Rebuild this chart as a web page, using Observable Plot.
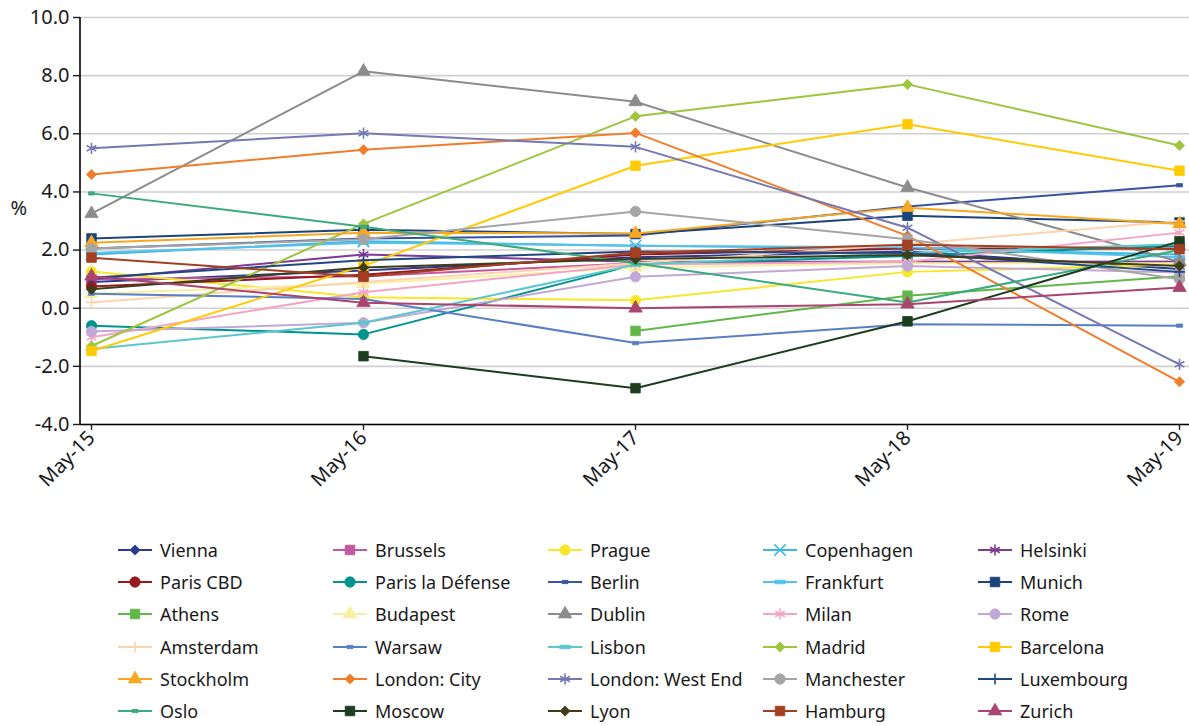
<!DOCTYPE html>
<html><head><meta charset="utf-8">
<script src="https://cdn.jsdelivr.net/npm/d3@7"></script>
<script src="https://cdn.jsdelivr.net/npm/@observablehq/plot@0.6"></script>
<style>
body{margin:0;background:#fff;font-family:"Noto Sans",sans-serif;position:relative;width:1189px;height:726px;overflow:hidden;}
.item{position:absolute;display:flex;align-items:center;font-size:18px;color:#1a1a1a;height:32px;white-space:nowrap;}
.item svg{margin-right:6px;}
</style></head><body>
<div id="chart"></div>
<div id="legend"></div>
<script>
// ---- data ----
const months = ["May-15","May-16","May-17","May-18","May-19"];
const yTicks = [-4, -2, 0, 2, 4, 6, 8, 10];

const vienna      = [0.9, 1.3, 1.75, 1.95, 1.35];
const brussels    = [1.0, 1.1, 1.55, 1.6, 1.6];
const prague      = [1.26, 0.38, 0.27, 1.25, 1.5];
const copenhagen  = [1.85, 2.3, 2.15, 2.05, 1.85];
const helsinki    = [1.0, 1.85, 1.6, 1.6, 1.6];
const parisCBD    = [0.75, 1.15, 1.85, 2.05, 2.05];
const parisDefense= [-0.6, -0.9, 1.5, 1.8, 2.15];
const berlin      = [2.05, 2.4, 2.5, 3.5, 4.23];
const frankfurt   = [1.9, 2.25, 2.15, 2.1, 1.75];
const munich      = [2.4, 2.7, 2.55, 3.18, 2.95];
const athens      = [null, null, -0.78, 0.43, 1.1];
const budapest    = [0.5, 0.85, 1.4, 1.55, 1.55];
const dublin      = [3.25, 8.15, 7.1, 4.15, 1.6];
const milan       = [-1.0, 0.55, 1.5, 1.6, 2.6];
const rome        = [-0.8, -0.5, 1.08, 1.45, 1.23];
const amsterdam   = [0.2, 0.9, 1.55, 2.2, 3.0];
const warsaw      = [0.5, 0.32, -1.2, -0.55, -0.6];
const lisbon      = [-1.4, -0.5, 1.5, 1.9, 2.2];
const madrid      = [-1.3, 2.9, 6.6, 7.7, 5.6];
const barcelona   = [-1.47, 1.46, 4.9, 6.33, 4.73];
const stockholm   = [2.25, 2.6, 2.57, 3.46, 2.9];
const londonCity  = [4.6, 5.45, 6.03, 2.49, -2.53];
const londonWE    = [5.5, 6.02, 5.55, 2.77, -1.93];
const manchester  = [2.05, 2.37, 3.33, 2.37, 1.0];
const luxembourg  = [1.05, 1.65, 1.95, 1.9, 1.25];
const oslo        = [3.95, 2.8, 1.55, 0.2, 2.0];
const moscow      = [null, -1.65, -2.75, -0.45, 2.3];
const lyon        = [0.65, 1.4, 1.69, 1.83, 1.45];
const hamburg     = [1.74, 1.08, 1.91, 2.18, 2.03];
const zurich      = [1.1, 0.19, 0.0, 0.14, 0.71];

const names = ["Vienna","Brussels","Prague","Copenhagen","Helsinki",
  "Paris CBD","Paris la Défense","Berlin","Frankfurt","Munich",
  "Athens","Budapest","Dublin","Milan","Rome",
  "Amsterdam","Warsaw","Lisbon","Madrid","Barcelona",
  "Stockholm","London: City","London: West End","Manchester","Luxembourg",
  "Oslo","Moscow","Lyon","Hamburg","Zurich"];
const values = [vienna,brussels,prague,copenhagen,helsinki,
  parisCBD,parisDefense,berlin,frankfurt,munich,
  athens,budapest,dublin,milan,rome,
  amsterdam,warsaw,lisbon,madrid,barcelona,
  stockholm,londonCity,londonWE,manchester,luxembourg,
  oslo,moscow,lyon,hamburg,zurich];

// ---- styles ----
const colors = ["#2B3990","#C2589E","#F7E72A","#3DB6E3","#7D3C97",
  "#96191E","#00948F","#3953A4","#56C2EC","#1B4479",
  "#62B74A","#F7F0A4","#8C8C8C","#F3A5C6","#C2A8D4",
  "#FCD3AE","#5A7EC5","#5CC6CC","#9DC53D","#FFCB05",
  "#F7A823","#F07D2A","#7678B2","#A5A5A5","#22487F",
  "#3BAA7D","#1D3D1F","#3E3E1A","#A33F22","#A9456E"];
const dashSmall = {draw(ctx, size){const r=Math.sqrt(size/Math.PI); ctx.rect(-r, -r*0.55, 2*r, 1.1*r);}};
const dashWide = {draw(ctx, size){const r=Math.sqrt(size/Math.PI); ctx.rect(-r*1.3, -r*0.45, 2.6*r, 0.9*r);}};
const S = {
  diamond:[d3.symbolDiamond2,4.6,true], square:[d3.symbolSquare,5.4,true], circle:[d3.symbolCircle,5.2,true],
  triangle:[d3.symbolTriangle,5,true], asterisk:[d3.symbolAsterisk,5.3,false], times:[d3.symbolTimes,5.3,false],
  plus:[d3.symbolPlus,3.6,false], dash:[dashSmall,3,true], dashw:[dashWide,4,true]
};
const markers = ["diamond","square","circle","times","asterisk",
  "circle","circle","dash","dashw","square",
  "square","triangle","triangle","asterisk","circle",
  "plus","dash","dashw","diamond","square",
  "triangle","diamond","asterisk","circle","plus",
  "dash","square","diamond","square","triangle"];

const seriesMarks = [];
names.forEach((name, i) => {
  const rows = months.map((m, j) => ({city: name, month: m, value: values[i][j]}));
  const pts = rows.filter(d => d.value != null);
  const [sym, r, filled] = S[markers[i]];
  seriesMarks.push(Plot.line(rows, {x: "month", y: "value", stroke: colors[i], strokeWidth: 2, defined: d => d.value != null}));
  seriesMarks.push(Plot.dot(pts, {x: "month", y: "value", symbol: sym, r,
    fill: filled ? colors[i] : "none", stroke: colors[i], strokeWidth: filled ? 0.8 : 1.6}));
});

const yAxisLine = (index, scales, values, dims) => {
  const l = document.createElementNS("http://www.w3.org/2000/svg", "line");
  l.setAttribute("x1", dims.marginLeft); l.setAttribute("x2", dims.marginLeft);
  l.setAttribute("y1", dims.marginTop); l.setAttribute("y2", dims.height - dims.marginBottom);
  l.setAttribute("stroke", "#000"); l.setAttribute("stroke-width", "1.6");
  return l;
};

const chart = Plot.plot({
  width: 1189, height: 530,
  marginLeft: 80, marginRight: 0, marginTop: 17, marginBottom: 106,
  style: {fontFamily: "'Noto Sans', sans-serif", color: "#1a1a1a", background: "white", overflow: "visible"},
  x: {type: "point", domain: months, padding: 0, insetLeft: 11, insetRight: 10},
  y: {domain: [-4, 10]},
  marks: [
    Plot.gridY(yTicks, {stroke: "#d0d0d0", strokeOpacity: 1, strokeWidth: 1.6}),
    ...seriesMarks,
    Plot.ruleY([-4], {stroke: "#000", strokeWidth: 1.6}),
    yAxisLine,
    Plot.axisY(yTicks, {tickSize: 7, tickPadding: 4, fontSize: 20, tickFormat: d => d.toFixed(1), label: null, strokeWidth: 1.4}),
    Plot.axisX({tickRotate: -45, tickSize: 6, tickPadding: 4, fontSize: 20, label: null, strokeWidth: 1.4}),
    Plot.text(["%"], {frameAnchor: "left", dx: -70, dy: -12, fontSize: 20, fill: "#1a1a1a"})
  ]
});
document.getElementById("chart").appendChild(chart);

// ---- legend ----
const legend = document.getElementById("legend");
names.forEach((name, i) => {
  const row = Math.floor(i / 5), col = i % 5;
  const div = document.createElement("div");
  div.className = "item";
  div.style.left = (118 + col * 215) + "px";
  div.style.top = (534 + row * 32.2) + "px";
  const [sym, r, filled] = S[markers[i]];
  const svg = d3.create("svg").attr("width", 36).attr("height", 20);
  svg.append("line").attr("x1", 0).attr("x2", 34).attr("y1", 10).attr("y2", 10)
    .attr("stroke", colors[i]).attr("stroke-width", 2);
  svg.append("path").attr("transform", "translate(17,10)")
    .attr("d", d3.symbol(sym, Math.PI * r * r)())
    .attr("fill", filled ? colors[i] : "none").attr("stroke", colors[i]).attr("stroke-width", filled ? 0.8 : 1.6);
  div.appendChild(svg.node());
  const span = document.createElement("span");
  span.textContent = name;
  div.appendChild(span);
  legend.appendChild(div);
});
</script>
</body></html>
